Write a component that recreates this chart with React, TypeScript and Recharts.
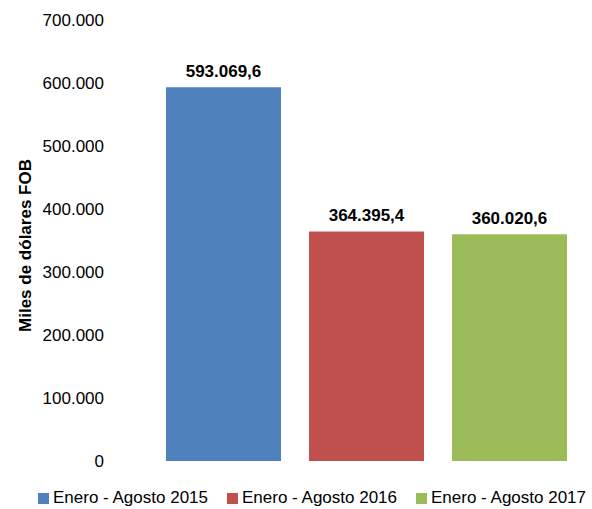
import React from 'react';
import { BarChart, Bar, XAxis, YAxis, Legend, LabelList, Label } from 'recharts';

const categories = ['Enero - Agosto 2015', 'Enero - Agosto 2016', 'Enero - Agosto 2017'];
const values = [593069.6, 364395.4, 360020.6];
const colors = ['#4F81BD', '#C0504D', '#9BBB59'];
const yTicks = [0, 100000, 200000, 300000, 400000, 500000, 600000, 700000];
const yTitle = 'Miles de dólares FOB';

const keys = ['s0', 's1', 's2'];
const row: Record<string, number | string> = { name: 'total' };
keys.forEach((k, i) => { row[k] = values[i]; });
const data = [row];

const groupThousands = (s: string) => s.replace(/\B(?=(\d{3})+(?!\d))/g, '.');
const fmtTick = (v: number) => groupThousands(String(Math.round(v)));
const fmtValue = (v: number) => {
  const [i, d] = v.toFixed(1).split('.');
  return groupThousands(i) + ',' + d;
};

const FONT = '"Liberation Sans", Arial, sans-serif';

const renderLegend = (props: any) => {
  const { payload } = props;
  return (
    <div style={{ display: 'flex', alignItems: 'center', fontFamily: FONT, fontSize: 17, color: '#000' }}>
      {payload.map((p: any, i: number) => (
        <div key={i} style={{ display: 'flex', alignItems: 'center', marginRight: 19 }}>
          <span style={{ display: 'inline-block', width: 11, height: 11, background: p.color, marginRight: 4 }} />
          <span style={{ whiteSpace: 'nowrap' }}>{p.value}</span>
        </div>
      ))}
    </div>
  );
};

export default function App() {
  return (
    <div style={{ position: 'absolute', left: 0, top: 0, background: '#fff' }}>
      <BarChart
        width={592}
        height={509}
        data={data}
        margin={{ top: 20, right: 10, left: 0, bottom: 28 }}
        barCategoryGap={14}
        barGap={28}
      >
        <XAxis dataKey="name" hide />
        <YAxis
          width={152}
          domain={[0, 700000]}
          ticks={yTicks}
          tickFormatter={fmtTick}
          axisLine={false}
          tickLine={false}
          tickSize={0}
          tickMargin={48}
          tick={{ fill: '#000', fontSize: 17, fontFamily: FONT }}
          interval={0}
        >
          <Label
            content={(p: any) => {
              const vb = p.viewBox || {};
              const cx = 25;
              const cy = (vb.y ?? 20) + (vb.height ?? 441) / 2 + 5;
              return (
                <text
                  x={cx}
                  y={cy}
                  transform={`rotate(-90, ${cx}, ${cy})`}
                  textAnchor="middle"
                  dominantBaseline="central"
                  fontFamily={FONT}
                  fontSize={17}
                  fontWeight="bold"
                  fill="#000"
                >
                  {yTitle}
                </text>
              );
            }}
          />
        </YAxis>
        <Legend
          verticalAlign="bottom"
          content={renderLegend}
          wrapperStyle={{ position: 'absolute', left: 38, top: 488, height: 20, width: 560 }}
        />
        {keys.map((k, i) => (
          <Bar key={k} dataKey={k} name={categories[i]} fill={colors[i]} isAnimationActive={false}>
            <LabelList
              dataKey={k}
              position="top"
              offset={10}
              formatter={(v: any) => fmtValue(Number(v))}
              style={{ fill: '#000', fontSize: 17, fontWeight: 'bold', fontFamily: FONT }}
            />
          </Bar>
        ))}
      </BarChart>
    </div>
  );
}
